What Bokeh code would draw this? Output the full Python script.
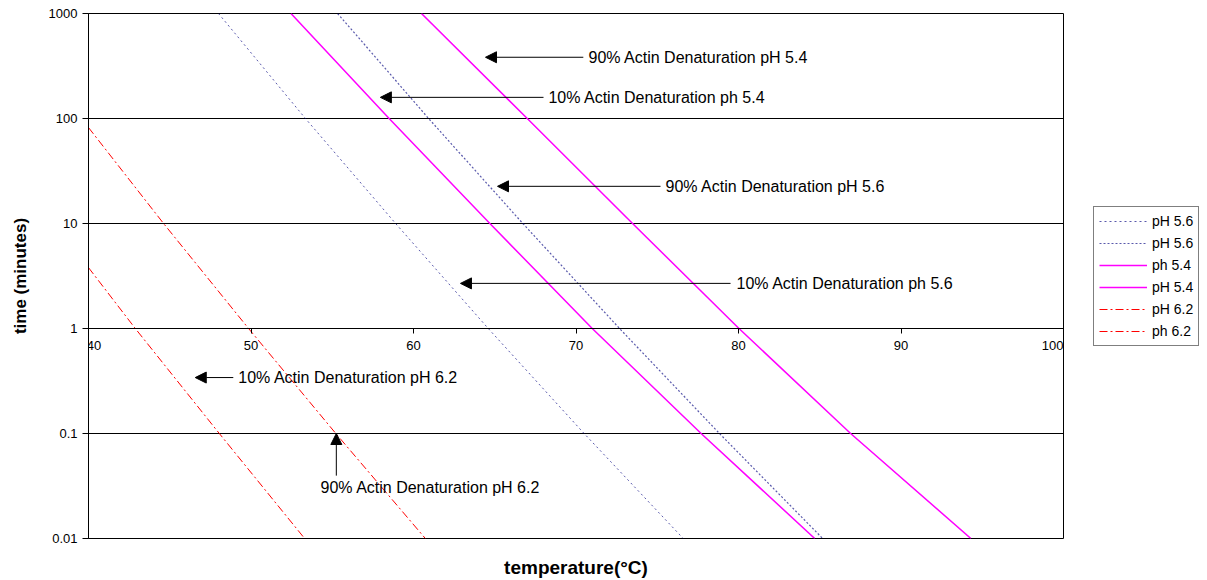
from bokeh.plotting import figure
from bokeh.models import (LinearAxis, Legend, LegendItem, Arrow, NormalHead, Label,
                          CustomJSTickFormatter, FixedTicker, Range1d)
from bokeh.embed import file_html
from bokeh.resources import INLINE

# ---------------- data ----------------
time_decades = [1000, 100, 10, 1, 0.1, 0.01]
temp_10_ph56 = [48.0, 53.35, 58.9, 64.6, 70.5, 76.6]
temp_90_ph56 = [55.33, 60.93, 66.73, 72.68, 78.83, 85.18]
temp_10_ph54 = [52.46, 58.5, 64.7, 71.0, 77.7, 84.69]
temp_90_ph54 = [60.49, 67.0, 73.48, 80.03, 86.9, 94.3]
temp_10_ph62 = [40.0, 42.88, 48.05, 53.30]
time_10_ph62 = [3.8, 1, 0.1, 0.01]
temp_90_ph62 = [40.0, 44.62, 49.85, 55.22, 60.73]
time_90_ph62 = [82, 10, 1, 0.1, 0.01]

x_ticks = [40, 50, 60, 70, 80, 90, 100]
y_ticks = [0.01, 0.1, 1, 10, 100, 1000]

legend_labels = ["pH 5.6", "pH 5.6", "ph 5.4", "pH 5.4", "pH 6.2", "ph 6.2"]

ann_texts = ["90% Actin Denaturation pH 5.4", "10% Actin Denaturation ph 5.4",
             "90% Actin Denaturation pH 5.6", "10% Actin Denaturation ph 5.6",
             "10% Actin Denaturation pH 6.2", "90% Actin Denaturation pH 6.2"]
ann_text_x = [70.77, 68.3, 75.51, 79.88, 49.22, 61.04]
ann_text_y = [383, 159, 22.6, 2.69, 0.341, 0.0305]
ann_align = ["left", "left", "left", "left", "left", "center"]
arr_x0 = [70.45, 68.0, 75.2, 79.51, 48.91, 55.25]
arr_y0 = [383, 159, 22.6, 2.69, 0.341, 0.0397]
arr_x1 = [64.43, 57.96, 65.17, 62.89, 46.57, 55.25]
arr_y1 = [383, 159, 22.6, 2.69, 0.341, 0.1]

FONT = "Liberation Sans"

p = figure(frame_width=975, frame_height=525, x_range=Range1d(40, 100), y_range=Range1d(0.01, 1000),
           y_axis_type="log", output_backend="svg", toolbar_location=None,
           min_border_left=88, min_border_right=0, min_border_top=13, min_border_bottom=42,
           background_fill_color="white", border_fill_color="white")
p.outline_line_color = "black"
p.outline_line_width = 1

p.xgrid.visible = False
p.ygrid.ticker = FixedTicker(ticks=y_ticks, minor_ticks=[])
p.ygrid.grid_line_color = "black"
p.ygrid.grid_line_width = 1
p.ygrid.grid_line_alpha = 1

yax = p.yaxis[0]
yax.ticker = FixedTicker(ticks=y_ticks, minor_ticks=[])
yax.formatter = CustomJSTickFormatter(code="return tick >= 1 ? tick.toFixed(0) : String(Number(tick.toPrecision(1)));")
yax.major_tick_in = 0
yax.major_tick_out = 6
yax.minor_tick_line_color = None
yax.axis_line_color = "black"
yax.major_label_text_font = FONT
yax.major_label_text_font_size = "13px"
yax.major_label_text_color = "black"
yax.axis_label = "time (minutes)"
yax.axis_label_text_font = FONT
yax.axis_label_text_font_size = "17px"
yax.axis_label_text_font_style = "bold"
yax.axis_label_text_color = "black"
yax.axis_label_standoff = 16

xax = p.xaxis[0]
xax.fixed_location = 1
xax.ticker = FixedTicker(ticks=x_ticks, minor_ticks=[])
xax.major_tick_in = 0
xax.major_tick_out = 5
xax.minor_tick_line_color = None
xax.axis_line_color = "black"
xax.major_label_text_font = FONT
xax.major_label_text_font_size = "13px"
xax.major_label_text_color = "black"
xax.major_label_standoff = 4
xax.major_label_overrides = {40: "\u00a0\u00a0\u00a040", 100: "100\u00a0\u00a0\u00a0\u00a0\u00a0\u00a0"}

lab_ax = LinearAxis(axis_label="temperature(°C)", ticker=FixedTicker(ticks=[], minor_ticks=[]),
                    major_tick_line_color=None, minor_tick_line_color=None, axis_line_color=None,
                    major_tick_out=0, major_tick_in=0, major_label_standoff=0, axis_label_standoff=18)
lab_ax.axis_label_text_font = FONT
lab_ax.axis_label_text_font_size = "19px"
lab_ax.axis_label_text_font_style = "bold"
lab_ax.axis_label_text_color = "black"
p.add_layout(lab_ax, "below")

BLUE = "#000080"
r1 = p.line(temp_10_ph56, time_decades, line_color=BLUE, line_width=1, line_dash="2 3", line_alpha=0.65)
r2 = p.line(temp_90_ph56, time_decades, line_color=BLUE, line_width=1.2, line_dash="2 2", line_alpha=0.65)
r3 = p.line(temp_10_ph54, time_decades, line_color="#FF00FF", line_width=1.5)
r4 = p.line(temp_90_ph54, time_decades, line_color="#FF00FF", line_width=1.5)
r5 = p.line(temp_10_ph62, time_10_ph62, line_color="#FF0000", line_width=1, line_dash="8 3 2 3")
r6 = p.line(temp_90_ph62, time_90_ph62, line_color="#FF0000", line_width=1, line_dash="8 3 2 3")

for i, t in enumerate(ann_texts):
    p.add_layout(Arrow(end=NormalHead(size=11, fill_color="black", line_color="black"),
                       x_start=arr_x0[i], y_start=arr_y0[i], x_end=arr_x1[i], y_end=arr_y1[i],
                       line_color="black", line_width=1))
    p.add_layout(Label(x=ann_text_x[i], y=ann_text_y[i], text=t, text_align=ann_align[i],
                       text_baseline="middle", text_font=FONT, text_font_size="16px",
                       text_color="black"))

legend = Legend(items=[LegendItem(label=lab, renderers=[r]) for lab, r in
                       zip(legend_labels, [r1, r2, r3, r4, r5, r6])],
                location="center_left", border_line_color="black", border_line_width=1,
                label_text_font=FONT, label_text_font_size="14px", label_text_color="black",
                glyph_width=48, glyph_height=18, label_height=18, spacing=4, padding=5,
                label_standoff=5, margin=30, background_fill_alpha=1)
p.add_layout(legend, "right")

open("out.html", "w").write(file_html(p, INLINE))
